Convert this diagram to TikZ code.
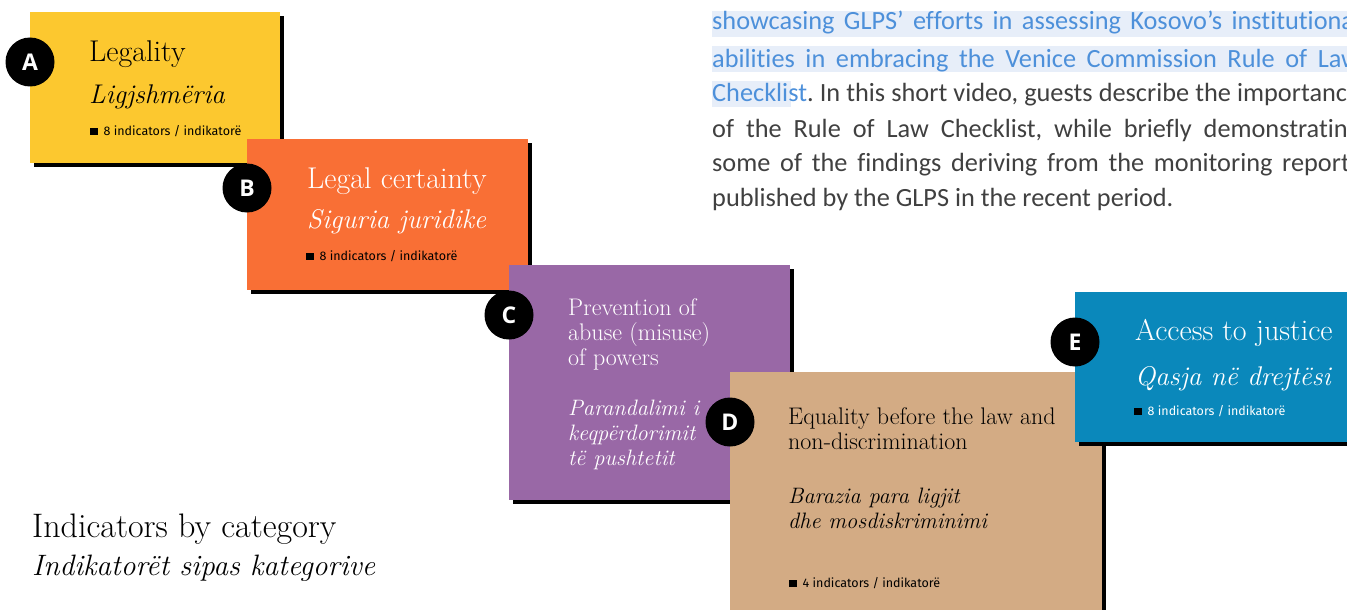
\documentclass[tikz,border=0pt]{standalone}
\usepackage{fontspec}
\newfontfamily\parafont[Ligatures=NoCommon]{Carlito}
\newfontfamily\countfont{Fira Sans}
\newfontfamily\badgefont{Open Sans}
\usetikzlibrary{shadows}
\frenchspacing

\definecolor{cardYellow}{HTML}{FCC82F}
\definecolor{cardOrange}{HTML}{F96F35}
\definecolor{cardPurple}{HTML}{9968A6}
\definecolor{cardTan}{HTML}{D3AB84}
\definecolor{cardBlue}{HTML}{0A88BB}
\definecolor{paraGrey}{HTML}{404040}
\definecolor{linkBlue}{HTML}{4D90DA}
\definecolor{linkBack}{HTML}{E7EEF9}

\begin{document}
\begin{tikzpicture}[x=1pt,y=-1pt]
   \tikzset{card/.style 2 args={fill=#1, draw=none, anchor=north west, minimum width=#2, inner sep=0pt,
              general shadow={fill=black, shadow xshift=4pt, shadow yshift=-4pt}},
            badge/.style={circle, fill=black, text=white, minimum size=49pt, inner sep=0pt,
              font=\badgefont\bfseries\fontsize{23}{23}\selectfont},
            title/.style={anchor=base west, inner sep=0pt, font=\fontsize{30}{34}\selectfont},
            subtitle/.style={anchor=base west, inner sep=0pt, font=\itshape\fontsize{27}{34}\selectfont},
            small title/.style={anchor=base west, inner sep=0pt, align=left, font=\fontsize{24}{25}\selectfont},
            small subtitle/.style={anchor=base west, inner sep=0pt, align=left, font=\itshape\fontsize{22.3}{25}\selectfont},
            count/.style={anchor=base west, inner sep=0pt, font=\countfont\fontsize{12.5}{13}\selectfont},
            line/.style={anchor=base west, inner sep=0pt, font=\parafont\fontsize{26.3}{35}\selectfont, text=paraGrey}};
   \newcommand{\bulletsq}{{\color{black}\rule{7.5pt}{7.5pt}}\hspace{6pt}}

\useasboundingbox (0,0) rectangle (1347,610);
\clip (0,0) rectangle (1347,610);

% text column, top right
\fill[linkBack] (712,11) rectangle (1347,37);
\fill[linkBack] (712,46) rectangle (1347,72);
\fill[linkBack] (712,81) rectangle (791,107);
\node[line,text=linkBlue] (p1) at (712,30) {\makebox[648pt][s]{showcasing GLPS’ efforts in assessing Kosovo’s institutional}};
\node[line,text=linkBlue] (p2) at (712,67) {\makebox[648pt][s]{abilities in embracing the Venice Commission Rule of Law}};
\node[line] (p3) at (712,102) {\makebox[648pt][s]{{\color{linkBlue}Checklist}. In this short video, guests describe the importance}};
\node[line] (p4) at (712,137) {\makebox[648pt][s]{of the Rule of Law Checklist, while briefly demonstrating}};
\node[line] (p5) at (712,171) {\makebox[648pt][s]{some of the findings deriving from the monitoring reports}};
\node[line] (p6) at (712,206) {published by the GLPS in the recent period.};

% A
\node[card={cardYellow}{250pt}, minimum height=151pt] (A) at (30,12) {};
\node[badge] (cA) at (30,62) {A};
\node[title] (tA) at (89,62) {Legality};
\node[subtitle] (iA) at (89,103) {Ligjshmëria};
\node[count] (nA) at (90,135) {\bulletsq 8 indicators / indikatorë};

% B
\node[card={cardOrange}{281pt}, minimum height=151pt] (B) at (247,139) {};
\node[badge] (cB) at (247,188) {B};
\node[title,text=white] (tB) at (307,188) {Legal certainty};
\node[subtitle,text=white] (iB) at (307,228) {Siguria juridike};
\node[count] (nB) at (306,260) {\bulletsq 8 indicators / indikatorë};

% C
\node[card={cardPurple}{281pt}, minimum height=235pt] (C) at (509,265) {};
\node[badge] (cC) at (509,315) {C};
\node[small title,text=white] (tC) at (568,365) {Prevention of\\abuse (misuse)\\of powers};
\node[small subtitle,text=white] (iC) at (568,465) {Parandalimi i\\keqpërdorimit\\të pushtetit};

% D
\node[card={cardTan}{372pt}, minimum height=260pt] (D) at (730,372) {};
\node[badge] (cD) at (730,422) {D};
\node[small title] (tD) at (788,449) {Equality before the law and\\non-discrimination};
\node[small subtitle] (iD) at (788,528) {Barazia para ligjit\\dhe mosdiskriminimi};
\node[count] (nD) at (789,587) {\bulletsq 4 indicators / indikatorë};

% E
\node[card={cardBlue}{300pt}, minimum height=150pt] (E) at (1075,292) {};
\node[badge] (cE) at (1075,342) {E};
\node[title,text=white] (tE) at (1135,340) {Access to justice};
\node[subtitle,text=white] (iE) at (1135,385) {Qasja në drejtësi};
\node[count,text=white] (nE) at (1134,415) {\bulletsq 8 indicators / indikatorë};

% caption, bottom left
\node[title,font=\fontsize{34}{40}\selectfont] (cap) at (32,537) {Indicators by category};
\node[subtitle,font=\itshape\fontsize{29.5}{40}\selectfont] (capi) at (32,575) {Indikatorët sipas kategorive};

\end{tikzpicture}
\end{document}
